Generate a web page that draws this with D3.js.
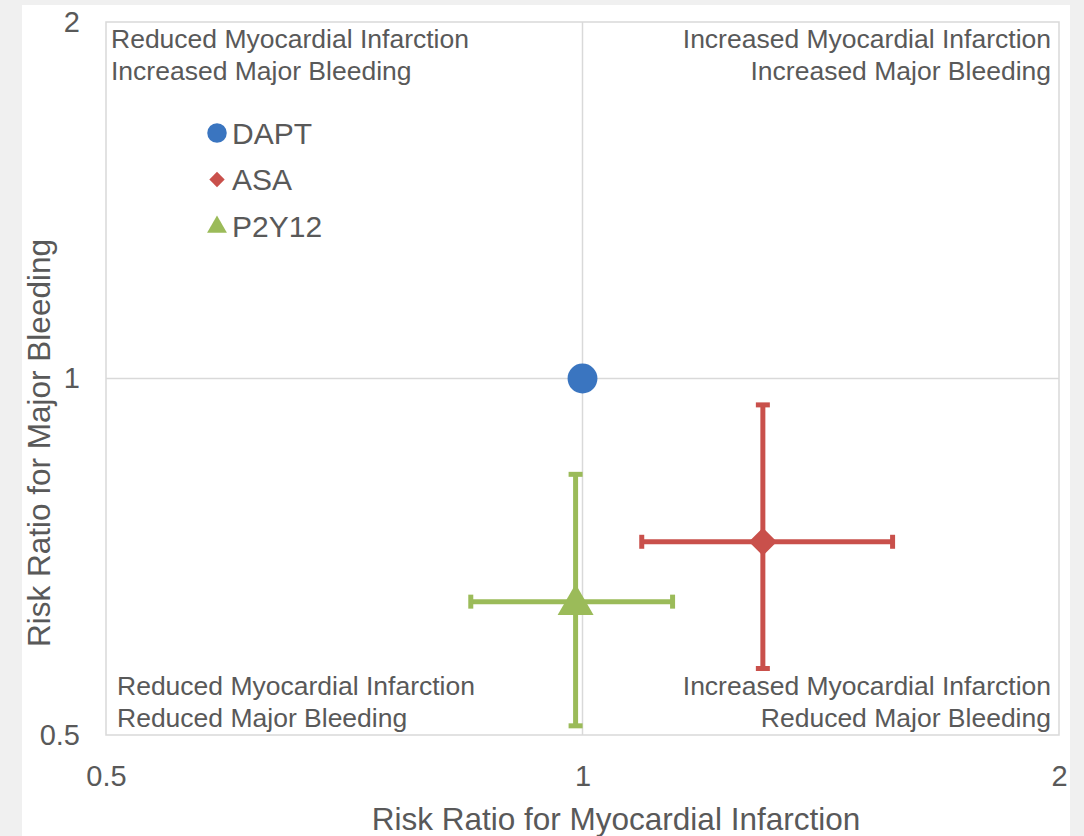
<!DOCTYPE html>
<html>
<head>
<meta charset="utf-8">
<script src="https://cdn.jsdelivr.net/npm/d3@7"></script>
<style>
  body { margin: 0; background: #f0f0f0; }
  svg { display: block; font-family: "Liberation Sans", Arial, sans-serif; }
</style>
</head>
<body>
<div id="chart"></div>
<script>
// data
var series = ["DAPT", "ASA", "P2Y12"];
var mi = [1.00, 1.30, 0.99];          // risk ratio for myocardial infarction
var miLow = [null, 1.09, 0.85];
var miHigh = [null, 1.57, 1.14];
var bleed = [1.00, 0.728, 0.648];     // risk ratio for major bleeding
var bleedLow = [null, 0.569, 0.509];
var bleedHigh = [null, 0.95, 0.83];
var colors = ["#3a75c0", "#c9504b", "#9bbb59"];
var ticks = [0.5, 1, 2];
var quadrantLabels = [
	["Reduced Myocardial Infarction", "Increased Major Bleeding"],
	["Increased Myocardial Infarction", "Increased Major Bleeding"],
	["Reduced Myocardial Infarction", "Reduced Major Bleeding"],
	["Increased Myocardial Infarction", "Reduced Major Bleeding"]
];

var W = 1084, H = 836;
var margin = {top: 22, right: 25, bottom: 101, left: 106};
var width = W - margin.left - margin.right,
    height = H - margin.top - margin.bottom;

var svg = d3.select("#chart").append("svg")
	.attr("width", W)
	.attr("height", H);

//White panel
svg.append("rect")
	.attr("x", 22).attr("y", 5)
	.attr("width", 1048).attr("height", H - 5)
	.style("fill", "#ffffff");

var g = svg.append("g")
	.attr("transform", "translate(" + margin.left + "," + margin.top + ")");

var x = d3.scaleLog().base(2).domain([0.5, 2]).range([0, width]);
var y = d3.scaleLog().base(2).domain([0.5, 2]).range([height, 0]);

//Gridlines at 1
g.append("line")
	.attr("x1", x(1)).attr("x2", x(1))
	.attr("y1", 0).attr("y2", height)
	.style("stroke", "#d9d9d9").style("stroke-width", 1.5);
g.append("line")
	.attr("x1", 0).attr("x2", width)
	.attr("y1", y(1)).attr("y2", y(1))
	.style("stroke", "#d9d9d9").style("stroke-width", 1.5);

//Plot border
g.append("rect")
	.attr("width", width).attr("height", height)
	.style("fill", "none")
	.style("stroke", "#d9d9d9").style("stroke-width", 1.5);

//Axes
var xAxis = g.append("g")
	.attr("transform", "translate(0," + height + ")")
	.call(d3.axisBottom(x).tickValues(ticks).tickSize(0).tickPadding(30).tickFormat(d3.format("")));
var yAxis = g.append("g")
	.call(d3.axisLeft(y).tickValues(ticks).tickSize(0).tickPadding(26).tickFormat(d3.format("")));
[xAxis, yAxis].forEach(function(a) {
	a.select(".domain").remove();
	a.selectAll("text")
		.style("font-family", "Liberation Sans, Arial, sans-serif")
		.style("font-size", "29px")
		.style("fill", "#595959");
});

//Axis titles
svg.append("text")
	.attr("x", 616).attr("y", 830)
	.attr("text-anchor", "middle")
	.style("font-size", "31.5px").style("fill", "#595959")
	.text("Risk Ratio for Myocardial Infarction");
svg.append("text")
	.attr("transform", "translate(50,443) rotate(-90)")
	.attr("text-anchor", "middle")
	.style("font-size", "31.5px").style("fill", "#595959")
	.text("Risk Ratio for Major Bleeding");

//Quadrant labels
var qPos = [
	{x: 5, y: 26, anchor: "start"},
	{x: width - 8, y: 26, anchor: "end"},
	{x: 11, y: 673, anchor: "start"},
	{x: width - 8, y: 673, anchor: "end"}
];
quadrantLabels.forEach(function(lines, i) {
	var t = g.append("text")
		.attr("text-anchor", qPos[i].anchor)
		.style("font-size", "26.5px").style("fill", "#595959");
	lines.forEach(function(l, j) {
		t.append("tspan")
			.attr("x", qPos[i].x)
			.attr("y", qPos[i].y + j * 31.5)
			.text(l);
	});
});

//Error bars
var cap = 7;
series.forEach(function(s, i) {
	if (miLow[i] == null) return;
	var eg = g.append("g")
		.style("stroke", colors[i]).style("stroke-width", 5).style("fill", "none");
	var cx = x(mi[i]), cy = y(bleed[i]);
	eg.append("line").attr("x1", x(miLow[i])).attr("x2", x(miHigh[i])).attr("y1", cy).attr("y2", cy);
	eg.append("line").attr("x1", cx).attr("x2", cx).attr("y1", y(bleedLow[i])).attr("y2", y(bleedHigh[i]));
	[miLow[i], miHigh[i]].forEach(function(v) {
		eg.append("line").attr("x1", x(v)).attr("x2", x(v)).attr("y1", cy - cap).attr("y2", cy + cap);
	});
	[bleedLow[i], bleedHigh[i]].forEach(function(v) {
		eg.append("line").attr("x1", cx - cap).attr("x2", cx + cap).attr("y1", y(v)).attr("y2", y(v));
	});
});

//Markers
var symbols = [d3.symbolCircle, d3.symbolDiamond2, d3.symbolTriangle];
var sizes = [700, 500, 560];
series.forEach(function(s, i) {
	g.append("path")
		.attr("d", d3.symbol().type(symbols[i]).size(sizes[i]))
		.attr("transform", "translate(" + x(mi[i]) + "," + (y(bleed[i]) + (i == 2 ? 3 : 0)) + ")")
		.style("fill", colors[i]);
});

//Legend
var legend = svg.append("g");
var legendSizes = [300, 150, 170];
series.forEach(function(s, i) {
	var ly = 133 + i * 46.5;
	legend.append("path")
		.attr("d", d3.symbol().type(symbols[i]).size(legendSizes[i]))
		.attr("transform", "translate(217," + (ly + (i == 2 ? 1 : 0)) + ")")
		.style("fill", colors[i]);
	legend.append("text")
		.attr("x", 232).attr("y", ly)
		.attr("dy", "0.35em")
		.style("font-size", "30px").style("fill", "#595959")
		.text(s);
});
</script>
</body>
</html>
